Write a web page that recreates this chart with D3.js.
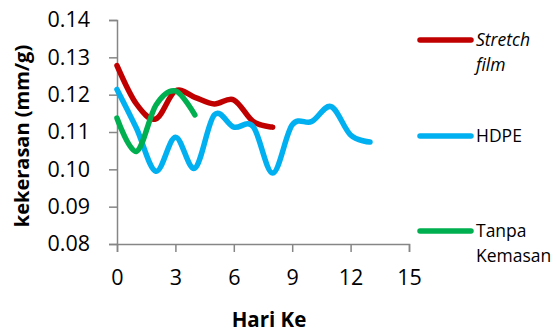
<!DOCTYPE html>
<html><head><meta charset="utf-8">
<script src="https://cdn.jsdelivr.net/npm/d3@7"></script>
<style>body{margin:0;background:#fff}svg{display:block}text{font-family:"Open Sans",sans-serif;fill:#000}</style>
</head><body><svg id="c" width="556" height="335"></svg>
<script>
const seriesNames = ["Stretch film", "HDPE", "Tanpa Kemasan"];
const colors = ["#C00000", "#00B0F0", "#00B050"];
const stretchDays = [0,1,2,3,4,5,6,7,8];
const stretchValues = [0.1278,0.1175,0.1135,0.1210,0.1193,0.1175,0.1186,0.1128,0.1113];
const hdpeDays = [0,1,2,3,4,5,6,7,8,9,10,11,12,13];
const hdpeValues = [0.1214,0.1110,0.0995,0.1086,0.1003,0.1146,0.1113,0.1114,0.0990,0.1119,0.1128,0.1168,0.1092,0.1073];
const tanpaDays = [0,1,2,3,4];
const tanpaValues = [0.1137,0.1048,0.1172,0.1210,0.1146];
const xTicks = [0,3,6,9,12,15];
const yTicks = [0.08,0.09,0.10,0.11,0.12,0.13,0.14];

const svg = d3.select("#c");
const x = d3.scaleLinear().domain([0,15]).range([117,409]);
const y = d3.scaleLinear().domain([0.08,0.14]).range([244,20]);
const axisColor = "#868686";

const ya = svg.append("g").attr("transform","translate(117,0)")
  .call(d3.axisLeft(y).tickValues(yTicks).tickFormat(d3.format(".2f")).tickSizeOuter(0).tickSize(8).tickPadding(19));
const xa = svg.append("g").attr("transform","translate(0,244)")
  .call(d3.axisBottom(x).tickValues(xTicks).tickFormat(d3.format("d")).tickSizeOuter(0).tickSize(8).tickPadding(18));
[ya,xa].forEach(a=>{
  a.selectAll("path,line").attr("stroke",axisColor).attr("stroke-width",1.5);
  a.selectAll("text").attr("font-size",21.5).attr("font-family","'Open Sans',sans-serif").attr("fill","#000");
});

const line = d3.line().x(d=>x(d[0])).y(d=>y(d[1])).curve(d3.curveCatmullRom.alpha(0));
const data = [
  d3.zip(stretchDays, stretchValues),
  d3.zip(hdpeDays, hdpeValues),
  d3.zip(tanpaDays, tanpaValues)
];
data.forEach((d,i)=>{
  svg.append("path").datum(d).attr("d",line).attr("fill","none")
    .attr("stroke",colors[i]).attr("stroke-width",5.5).attr("stroke-linecap","round").attr("stroke-linejoin","round");
});

svg.append("text").attr("transform","translate(29,136) rotate(-90)").attr("text-anchor","middle")
  .attr("font-size",20).attr("font-weight","bold").text("kekerasan (mm/g)");
svg.append("text").attr("x",269).attr("y",327).attr("text-anchor","middle")
  .attr("font-size",20.5).attr("font-weight","bold").text("Hari Ke");

const legY = [40,136,231];
const legLines = [["Stretch","film"],["HDPE"],["Tanpa","Kemasan"]];
legY.forEach((ly,i)=>{
  svg.append("line").attr("x1",420).attr("x2",471).attr("y1",ly).attr("y2",ly)
    .attr("stroke",colors[i]).attr("stroke-width",5.5).attr("stroke-linecap","round");
  const t = svg.append("text").attr("x",476).attr("y",ly+6).attr("font-size",17.5)
    .attr("font-style", i===0 ? "italic" : "normal");
  legLines[i].forEach((s,j)=>t.append("tspan").attr("x",476).attr("dy", j===0?0:25).text(s));
});
</script></body></html>
